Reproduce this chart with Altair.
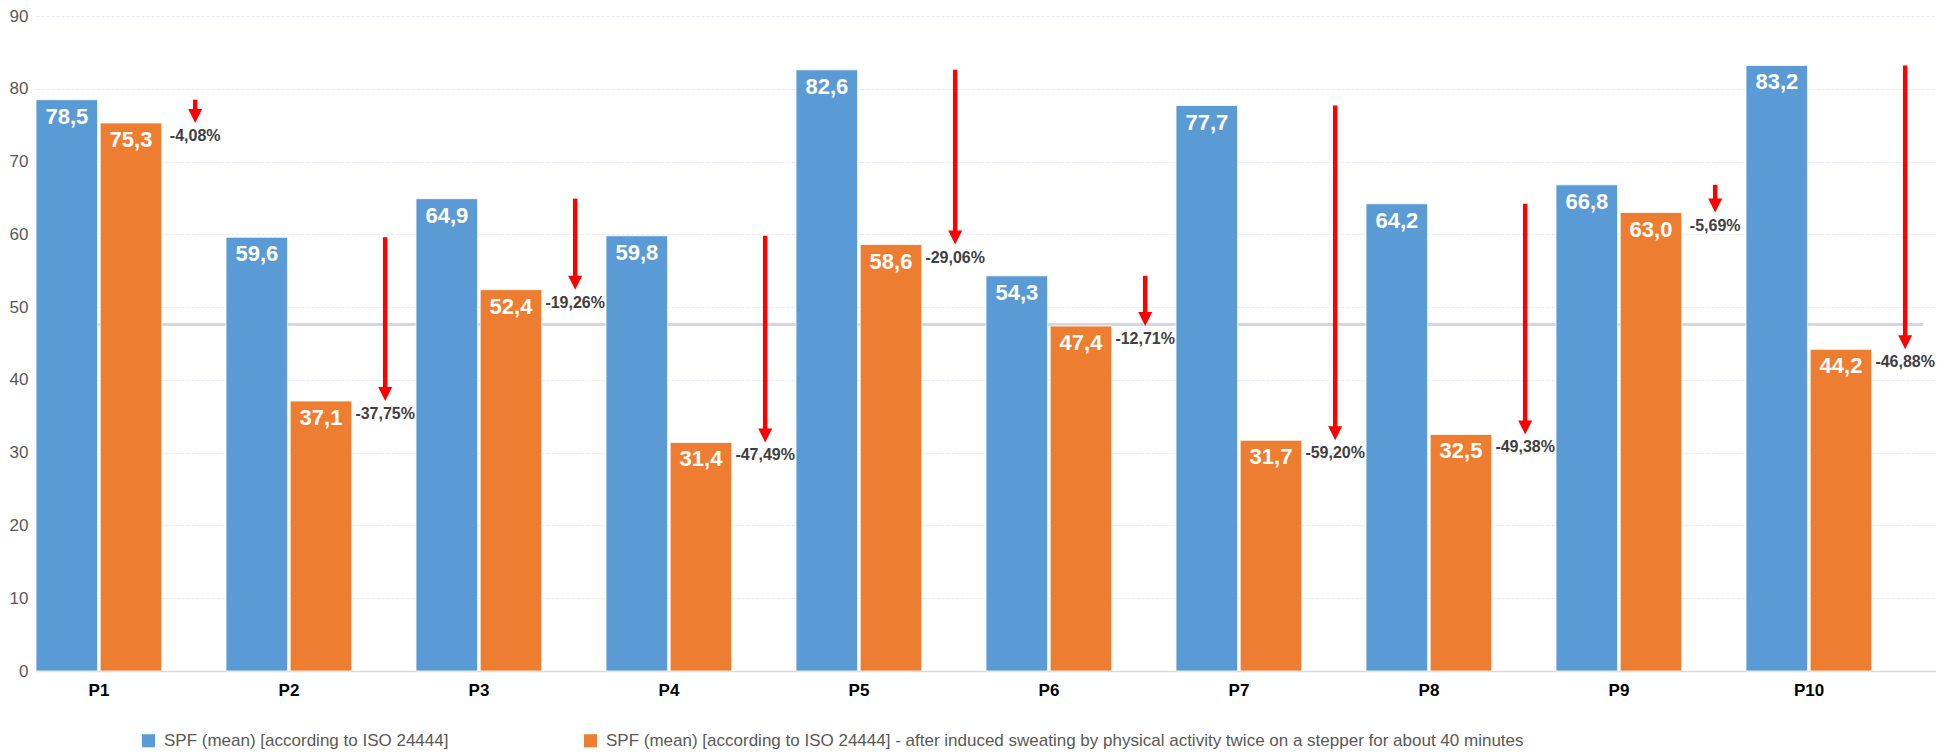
import altair as alt
import pandas as pd

categories = ["P1", "P2", "P3", "P4", "P5", "P6", "P7", "P8", "P9", "P10"]
spf_before = [78.5, 59.6, 64.9, 59.8, 82.6, 54.3, 77.7, 64.2, 66.8, 83.2]
spf_after = [75.3, 37.1, 52.4, 31.4, 58.6, 47.4, 31.7, 32.5, 63.0, 44.2]
change_labels = ["-4,08%", "-37,75%", "-19,26%", "-47,49%", "-29,06%",
                 "-12,71%", "-59,20%", "-49,38%", "-5,69%", "-46,88%"]
reference_line = [47.6]
series_names = [
    "SPF (mean) [according to ISO 24444]",
    "SPF (mean) [according to ISO 24444] - after induced sweating by physical activity twice on a stepper for about 40 minutes",
]
y_ticks = [0, 10, 20, 30, 40, 50, 60, 70, 80, 90]

BLUE = "#5B9BD5"
ORANGE = "#ED7D31"
RED = "#FF0000"
FONT = "Liberation Sans"


def fmt(v):
    return f"{v:.1f}".replace(".", ",")


rows = []
for c, b, a in zip(categories, spf_before, spf_after):
    rows.append({"cat": c, "slot": "a", "series": series_names[0], "value": b, "label": fmt(b)})
    rows.append({"cat": c, "slot": "b", "series": series_names[1], "value": a, "label": fmt(a)})
bars_df = pd.DataFrame(rows)

arrows_df = pd.DataFrame({
    "cat": categories,
    "slot": ["c"] * len(categories),
    "top": spf_before,
    "tip": spf_after,
    "pct": change_labels,
})
mean_df = pd.DataFrame({"m": reference_line})

x_enc = alt.X(
    "cat:N",
    sort=categories,
    scale=alt.Scale(paddingInner=0, paddingOuter=0),
    axis=alt.Axis(
        title=None, labelAngle=0, labelFont=FONT, labelFontWeight="bold",
        labelFontSize=17, labelColor="#000000", labelOffset=-32, labelPadding=11,
        ticks=False, domainColor="#D9D9D9", domainWidth=1.5,
    ),
)
xo_enc = alt.XOffset(
    "slot:N",
    scale=alt.Scale(domain=["a", "b", "c"], paddingInner=0.04, paddingOuter=0),
)
y_scale = alt.Scale(domain=[0, 90], nice=False)
y_axis = alt.Axis(
    title=None, values=y_ticks, labelFont=FONT, labelFontSize=17,
    labelColor="#595959", labelPadding=8, ticks=False, domain=False,
    grid=True, gridColor="#E6E9F0", gridDash=[3, 2], gridWidth=1,
)


def yq(field):
    return alt.Y(field, scale=y_scale, axis=y_axis, title=None)


mean_rule = alt.Chart(mean_df).mark_rule(color="#D6D6E2", strokeWidth=3).encode(
    y=yq("m:Q"),
    x=alt.value(0),
    x2=alt.value(1887),
)

bars = alt.Chart(bars_df).mark_bar(stroke="white", strokeWidth=0.8).encode(
    x=x_enc,
    xOffset=xo_enc,
    y=yq("value:Q"),
    color=alt.Color(
        "series:N",
        scale=alt.Scale(domain=series_names, range=[BLUE, ORANGE]),
        legend=alt.Legend(
            title=None, orient="none", direction="horizontal",
            legendX=104, legendY=716, labelFont=FONT, labelFontSize=17,
            labelColor="#595959", labelLimit=2000, symbolType="square",
            symbolSize=170, symbolStrokeWidth=0, columnPadding=133, labelOffset=7,
        ),
    ),
)

bar_text = alt.Chart(bars_df).mark_text(
    color="white", font=FONT, fontSize=22, fontWeight="bold", baseline="middle", dy=17
).encode(
    x=x_enc, xOffset=xo_enc,
    y=yq("value:Q"),
    text="label:N",
)

shaft = alt.Chart(arrows_df).transform_calculate(
    shaft_end="datum.tip + 1.0"
).mark_rule(color=RED, strokeWidth=4.5, strokeCap="butt").encode(
    x=x_enc, xOffset=xo_enc,
    y=yq("top:Q"),
    y2="shaft_end:Q",
)

head = alt.Chart(arrows_df).mark_point(
    shape="M-1,-2L1,-2L0,0Z", filled=True, size=196, color=RED, opacity=1, strokeWidth=0
).encode(
    x=x_enc, xOffset=xo_enc,
    y=yq("tip:Q"),
)

pct_text = alt.Chart(arrows_df).mark_text(
    color="#404040", font=FONT, fontSize=16, fontWeight="bold", baseline="middle", dy=13
).encode(
    x=x_enc, xOffset=xo_enc,
    y=yq("tip:Q"),
    text="pct:N",
)

chart = alt.layer(mean_rule, bars, bar_text, shaft, head, pct_text).properties(
    width=1900,
    height=655,
    autosize=alt.AutoSizeParams(type="none"),
    padding={"left": 28, "top": 8, "right": 0, "bottom": 83},
    background="white",
).configure_view(stroke=None)

chart.save("out.html", embed_options={"renderer": "svg", "actions": False})
